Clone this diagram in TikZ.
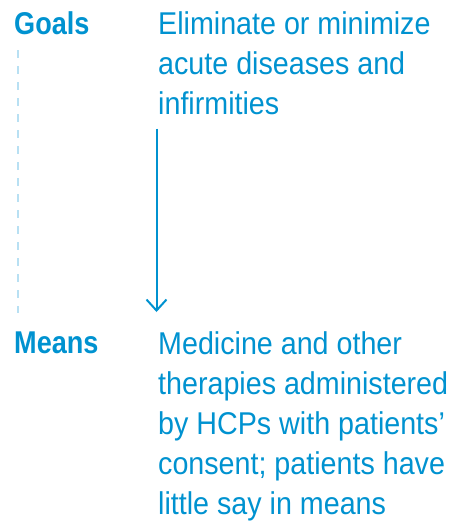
\documentclass[tikz,border=0pt]{standalone}
\usepackage{fontspec}
\setmainfont{Liberation Sans}[FakeStretch=0.91]
\newfontfamily\headfont{Liberation Sans}[FakeStretch=0.86]
\usetikzlibrary{positioning,arrows.meta}
\definecolor{inkblue}{RGB}{0,146,208}
\definecolor{paleblue}{RGB}{184,224,243}
\tikzset{
  lbl/.style={inner sep=0pt,text=inkblue,font=\headfont\bfseries\fontsize{31.5}{40}\selectfont},
  txt/.style={inner sep=0pt,text=inkblue,align=left,font=\fontsize{31.5}{40}\selectfont},
}
\begin{document}
\begin{tikzpicture}[x=1pt,y=1pt,line cap=butt,>={Straight Barb[length=11pt,width=20pt]}]
	\useasboundingbox (0,0) rectangle (458,-522);
	\node[lbl,anchor=base west] (goals) at (14,-34) {Goals};
	\node[lbl,anchor=base west] (means) at (14,-353) {Means};
	\node[txt,anchor=north west] (gtext) at (158,-11) {Eliminate or minimize\\acute diseases and\\infirmities};
	\node[txt,anchor=north west] (mtext) at (158,-331) {Medicine and other\\therapies administered\\by HCPs with patients’\\consent; patients have\\little say in means};
	\draw[paleblue,line width=2pt,dash pattern=on 8pt off 8pt] ([xshift=4pt,yshift=-16pt]goals.base west) -- ([xshift=4pt,yshift=18pt]means.north west);
	\draw[->,inkblue,line width=2pt] ([xshift=-1.5pt,yshift=-14pt]gtext.south west) -- ([xshift=-1.5pt,yshift=19pt]mtext.north west);
\end{tikzpicture}
\end{document}
